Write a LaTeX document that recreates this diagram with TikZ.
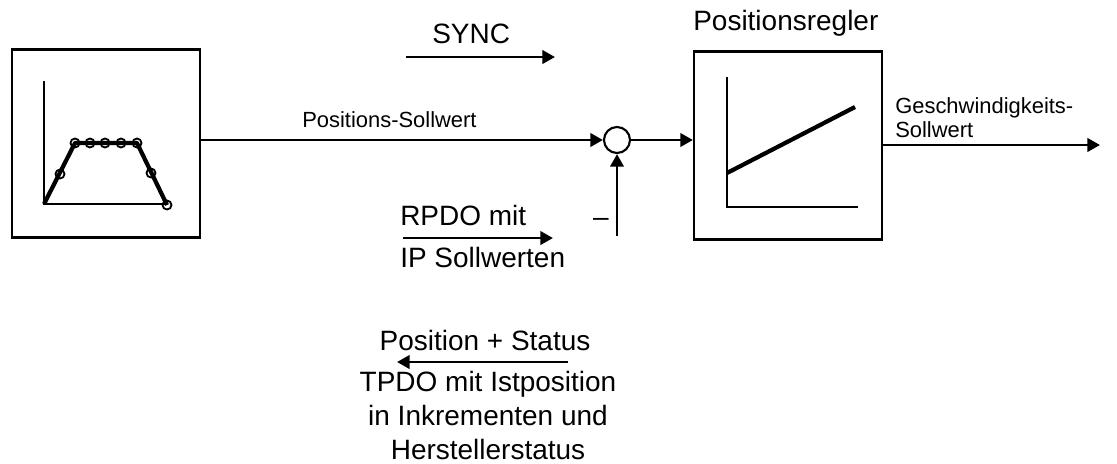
\documentclass[tikz,border=0pt]{standalone}
\usepackage{fontspec}
\setmainfont{Liberation Sans}
\usetikzlibrary{arrows.meta,positioning}
\tikzset{>={Triangle[length=9pt,width=9.5pt]}}

\begin{document}
\begin{tikzpicture}[
    x=0.025cm, y=-0.025cm,
    blockbox/.style={draw, line width=1.5pt, minimum width=4.7cm, minimum height=4.7cm, inner sep=0pt},
    sumnode/.style={draw, circle, line width=1.5pt, minimum size=0.65cm, inner sep=0pt},
    pfeil/.style={draw, line width=2.1pt, ->},
    achse/.style={line width=1.4pt},
    kurve/.style={line width=3pt, line join=round},
    lbl/.style={inner sep=0pt, font=\fontsize{19.9}{24}\selectfont},
    klein/.style={inner sep=0pt, font=\fontsize{15.6}{17}\selectfont}
    ]
\useasboundingbox (0,0) rectangle (1117,463);
% Bloecke
\node[blockbox] (traj) at (106,143.5) {};
\node[blockbox] (ctrl) at (788,145.5) {};
\node[sumnode] (sum) at (617,140) {};
% Sollwertverlauf
\draw[achse] (44,81) -- (44,204) -- (167,204);
\draw[kurve] (44,204) -- (75,143) -- (137,143) -- (167,205);
\foreach \x/\y in {60/174,75/143,90/143,105/143,121/143,137/143,151/173,167/205}
    \draw[line width=1.3pt] (\x,\y) circle[radius=4.5];
% Regler-Kennlinie
\draw[achse] (727,77) -- (727,207) -- (858,207);
\draw[kurve] (727,173) -- (855,107);
% Beschriftungen
\node[lbl, anchor=base west] (regler) at (693,30) {Positionsregler};
\node[lbl, anchor=base west] (sync) at (432,43) {SYNC};
\node[klein, anchor=base west] (psoll) at (302,127) {Positions-Sollwert};
\node[klein, anchor=north west, align=left] (vsoll) at (895,97) {Geschwindigkeits-\\Sollwert};
\node[lbl, anchor=base west] (rpdo) at (400,225) {RPDO mit};
\node[lbl, anchor=base west] (ipsoll) at (400,267) {IP Sollwerten};
\node[lbl, anchor=base] (minus) at (601,226) {--};
\node[lbl, anchor=base] (posstat) at (485,350) {Position + Status};
\node[lbl, anchor=north, align=center] (tpdo) at (488,371) {TPDO mit Istposition\\in Inkrementen und\\Herstellerstatus};
% freie Enden
\coordinate (syncL) at (406,57);
\coordinate (syncR) at (555,57);
\coordinate (rpdoL) at (403,238);
\coordinate (rpdoR) at (553,238);
\coordinate (tpdoR) at (568,362);
\coordinate (tpdoL) at (397,362);
\coordinate (fb) at (617,236);
\coordinate (out) at (1100,145);
% Verbindungen
\draw[pfeil] (traj.east |- sum) -- (sum.west);
\draw[pfeil] (sum.east) -- (sum.east -| ctrl.west);
\draw[pfeil] (ctrl.east |- out) -- (out);
\draw[pfeil] (fb) -- (sum.south);
\draw[pfeil] (syncL) -- (syncR);
\draw[pfeil] (rpdoL) -- (rpdoR);
\draw[pfeil] (tpdoR) -- (tpdoL);
\end{tikzpicture}
\end{document}
